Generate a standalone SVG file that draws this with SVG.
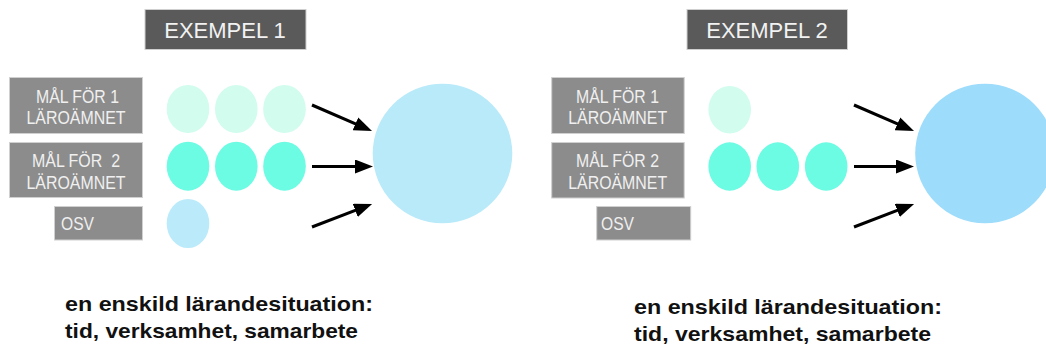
<svg xmlns="http://www.w3.org/2000/svg" width="1046" height="349" viewBox="0 0 1046 349">
<style>
.title{fill:#5a5a5a;stroke:#cfcfcf;stroke-width:1}
.tt{font-family:"Liberation Sans",Arial,sans-serif;font-size:22px;fill:#f2f2f2;text-anchor:middle}
.lab{fill:#8c8c8c;stroke:#d0d0d0;stroke-width:1}
.lt{font-family:"Liberation Sans",Arial,sans-serif;font-size:19px;fill:#f0f0f0;text-anchor:middle}
.ot{font-family:"Liberation Sans",Arial,sans-serif;font-size:18px;fill:#f0f0f0}
.c1{fill:#d1fcee}
.c2{fill:#6cfbe3}
.c3{fill:#bbebfa}
.bt{font-family:"Liberation Sans",Arial,sans-serif;font-size:21px;font-weight:bold;fill:#111}
.arr{stroke:#000;stroke-width:3;fill:none;marker-end:url(#ah)}
</style>
<defs>
<marker id="ah" markerUnits="userSpaceOnUse" markerWidth="19" markerHeight="15" refX="7" refY="7" orient="auto">
<path d="M0,0 L18,7 L0,14 z" fill="#000"/>
</marker>
</defs>
<rect width="1046" height="349" fill="#fff"/>

<g id="ex1-title"><rect class="title" x="145" y="9.5" width="161" height="40"/><text class="tt" x="225" y="37.7">EXEMPEL 1</text></g>
<g id="ex1-label1"><rect class="lab" x="9.5" y="77.5" width="133" height="56"/><text class="lt" x="77.5" y="102.5" textLength="83" lengthAdjust="spacingAndGlyphs">MÅL FÖR 1</text><text class="lt" x="76" y="124.2" textLength="99" lengthAdjust="spacingAndGlyphs">LÄROÄMNET</text></g>
<g id="ex1-label2"><rect class="lab" x="9.5" y="142.5" width="133" height="55"/><text class="lt" x="76" y="167.3" xml:space="preserve" textLength="88" lengthAdjust="spacingAndGlyphs">MÅL FÖR  2</text><text class="lt" x="76" y="189" textLength="99" lengthAdjust="spacingAndGlyphs">LÄROÄMNET</text></g>
<g id="ex1-osv"><rect class="lab" x="54.5" y="206.5" width="88" height="33.5"/><text class="ot" x="61" y="230" textLength="33" lengthAdjust="spacingAndGlyphs">OSV</text></g>
<g id="ex1-goals1"><ellipse class="c1" cx="188" cy="109" rx="21.3" ry="24"/><ellipse class="c1" cx="236.3" cy="109" rx="21.3" ry="24"/><ellipse class="c1" cx="284.5" cy="109" rx="21.3" ry="24"/></g>
<g id="ex1-goals2"><ellipse class="c2" cx="188" cy="166.2" rx="21.3" ry="24.5"/><ellipse class="c2" cx="236.3" cy="166.2" rx="21.3" ry="24.5"/><ellipse class="c2" cx="284.5" cy="166.2" rx="21.3" ry="24.5"/></g>
<g id="ex1-goals3"><ellipse class="c3" cx="188" cy="223.5" rx="21.3" ry="24.5"/></g>
<g id="ex1-situation"><circle cx="442.5" cy="153.5" r="69.8" fill="#b9eafa"/></g>
<g id="ex1-caption"><text class="bt" x="65" y="310.5" textLength="308" lengthAdjust="spacingAndGlyphs">en enskild lärandesituation:</text><text class="bt" x="65" y="337.5" textLength="293" lengthAdjust="spacingAndGlyphs">tid, verksamhet, samarbete</text></g>

<g id="ex2-title"><rect class="title" x="687" y="9.5" width="160.5" height="40"/><text class="tt" x="767" y="37.7">EXEMPEL 2</text></g>
<g id="ex2-label1"><rect class="lab" x="551.7" y="77.5" width="132.5" height="56"/><text class="lt" x="617.5" y="102.5" textLength="83" lengthAdjust="spacingAndGlyphs">MÅL FÖR 1</text><text class="lt" x="617.7" y="124.2" textLength="99" lengthAdjust="spacingAndGlyphs">LÄROÄMNET</text></g>
<g id="ex2-label2"><rect class="lab" x="551.7" y="142.5" width="132.5" height="55.5"/><text class="lt" x="617.5" y="167.3" textLength="83" lengthAdjust="spacingAndGlyphs">MÅL FÖR 2</text><text class="lt" x="617.7" y="189" textLength="99" lengthAdjust="spacingAndGlyphs">LÄROÄMNET</text></g>
<g id="ex2-osv"><rect class="lab" x="596.7" y="206.5" width="94" height="33.5"/><text class="ot" x="601" y="230" textLength="33" lengthAdjust="spacingAndGlyphs">OSV</text></g>
<g id="ex2-goals1"><ellipse class="c1" cx="729.7" cy="109.7" rx="21.3" ry="23.8"/></g>
<g id="ex2-goals2"><ellipse class="c2" cx="729.7" cy="166.5" rx="21.3" ry="24.2"/><ellipse class="c2" cx="777.8" cy="166.5" rx="21.3" ry="24.2"/><ellipse class="c2" cx="826.2" cy="166.5" rx="21.3" ry="24.2"/></g>
<g id="ex2-situation"><circle cx="985" cy="153.5" r="69.8" fill="#9ddcfb"/></g>
<g id="ex2-caption"><text class="bt" x="634" y="313.5" textLength="308" lengthAdjust="spacingAndGlyphs">en enskild lärandesituation:</text><text class="bt" x="634" y="340.5" textLength="297" lengthAdjust="spacingAndGlyphs">tid, verksamhet, samarbete</text></g>

<g id="connectors">
<line class="arr" x1="312" y1="105" x2="361.9" y2="126.6"/>
<line class="arr" x1="312" y1="166.5" x2="362" y2="166.5"/>
<line class="arr" x1="312" y1="227" x2="361.8" y2="207.9"/>
<line class="arr" x1="854" y1="105" x2="903.9" y2="126.6"/>
<line class="arr" x1="854" y1="166.5" x2="903" y2="166.5"/>
<line class="arr" x1="854" y1="227" x2="903.8" y2="207.9"/>
</g>
</svg>
